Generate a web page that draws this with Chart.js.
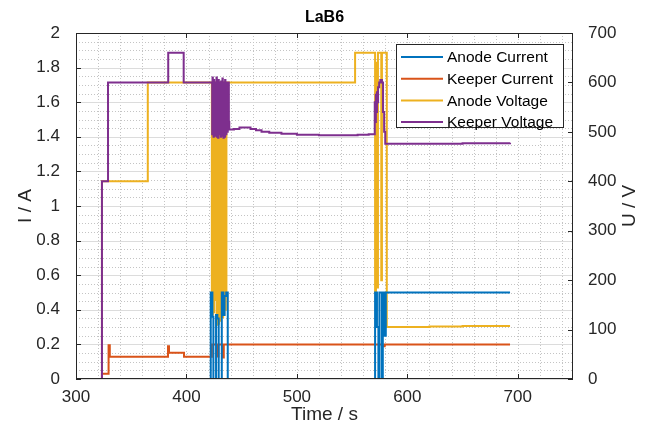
<!DOCTYPE html>
<html>
<head>
<meta charset="utf-8">
<title>LaB6</title>
<script src="https://cdn.jsdelivr.net/npm/chart.js@4.4.1/dist/chart.umd.min.js"></script>
<style>
  html, body { margin: 0; padding: 0; background: #fff; }
  #wrap { width: 647px; height: 432px; }
</style>
</head>
<body>
<div id="wrap"><canvas id="chart" width="647" height="432"></canvas></div>
<script>
// --- Data ---
const xTicks = [300, 400, 500, 600, 700];
const leftTicks = [0, 0.2, 0.4, 0.6, 0.8, 1, 1.2, 1.4, 1.6, 1.8, 2];
const leftTickLabels = ['0', '0.2', '0.4', '0.6', '0.8', '1', '1.2', '1.4', '1.6', '1.8', '2'];
const rightTicks = [0, 100, 200, 300, 400, 500, 600, 700];

const seriesNames = ['Anode Current', 'Keeper Current', 'Anode Voltage', 'Keeper Voltage'];

// Anode current, A (left axis)
const tAnodeCurrent = [322, 422.0, 423.5, 424.4, 426.8, 428.0, 429.2, 432.0, 433.5, 434.5, 436.0, 437.4,
  570.8, 572.5, 573.8, 574.7, 576.9, 577.8, 579.5, 580.5, 581.4, 620, 660, 693];
const anodeCurrent = [0, 0.5, 0.36, 0, 0.37, 0.35, 0, 0.5, 0.37, 0.48, 0.5, 0,
  0.5, 0.3, 0, 0.5, 0, 0.5, 0.25, 0.5, 0.5, 0.5, 0.5, 0.5];

// Keeper current, A (left axis)
const tKeeperCurrent = [322, 323.5, 329.5, 330.6, 383.3, 384.2, 397.8, 423.0, 427.7, 429.0, 432.3, 433.8,
  577.5, 579.5, 620, 693];
const keeperCurrent = [0, 0.03, 0.195, 0.128, 0.19, 0.152, 0.128, 0.2, 0.13, 0.2, 0.125, 0.2,
  0.19, 0.2, 0.2, 0.2];

// Anode voltage, V (right axis)
const tAnodeVoltage = [322, 323.5, 365,
  423.0, 423.3, 423.6, 423.9, 424.2, 424.5, 424.8, 425.1, 425.4, 425.7, 426.0,
  427.4, 427.7, 428.0, 428.3, 428.6, 428.9, 429.2, 429.5, 429.8, 430.1, 430.4, 430.7, 431.0,
  432.3, 432.6, 432.9, 433.2, 433.5, 433.8, 434.1, 434.4, 434.7, 435.0, 435.3, 435.6, 435.9, 436.2, 436.5,
  552.7, 570.8, 571.6, 572.4, 573.4, 574.7, 576.4, 577.0, 580.9, 581.4, 620, 650, 693];
const anodeVoltage = [0, 400, 600,
  140, 600, 130, 580, 150, 600, 135, 590, 160, 600, 600,
  115, 600, 110, 590, 120, 600, 112, 595, 125, 600, 118, 600, 600,
  140, 600, 125, 590, 150, 600, 130, 600, 160, 595, 140, 600, 170, 600, 600,
  660, 175, 640, 185, 660, 660, 200, 660, 660, 105, 106, 107, 107];

// Keeper voltage, V (right axis)
const tKeeperVoltage = [322, 323.5, 329, 383.5, 397.5,
  423.0, 423.3, 423.6, 423.9, 424.2, 424.5, 424.8, 425.1, 425.4, 425.7,
  426.0, 426.3, 426.6, 426.9, 427.2, 427.5, 427.8, 428.1, 428.4, 428.7,
  429.0, 429.3, 429.6, 429.9, 430.2, 430.5, 430.8, 431.1, 431.4, 431.7,
  432.0, 432.3, 432.6, 432.9, 433.2, 433.5, 433.8, 434.1, 434.4, 434.7,
  435.0, 435.3, 435.6, 435.9, 436.2, 436.5, 436.8, 437.1, 437.4, 437.7,
  438.0, 438.4, 438.8,
  443, 448, 453, 458, 463, 468, 475, 486, 500, 520, 540, 555, 565,
  570.5, 571.0, 571.5, 572.0, 572.5, 573.0, 573.5, 574.5, 575.5, 577.0, 578.0, 579.0, 580.0,
  600, 650, 693];
const keeperVoltage = [0, 400, 600, 660, 600,
  600, 495, 610, 500, 590, 490, 605, 505, 595, 492,
  600, 510, 585, 495, 610, 490, 600, 500, 595, 488,
  605, 500, 590, 495, 600, 505, 598, 490, 602, 498,
  600, 492, 608, 500, 595, 488, 600, 502, 592, 490,
  605, 498, 600, 495, 598, 505, 600, 500, 590, 510,
  600, 520, 505,
  506, 509, 509, 506, 503, 500, 498, 496, 494, 493, 493, 494, 495,
  560, 520, 575, 540, 580, 560, 590, 600, 605, 600, 540, 500, 476,
  476, 477, 478];

const colors = ['#0072BD', '#D95319', '#EDB120', '#7E2F8E'];

const FONT = "'Liberation Sans', Arial, sans-serif";
const AXIS_COLOR = '#262626';

function toPoints(ts, vs) {
  return ts.map(function (t, i) { return { x: t, y: vs[i] }; });
}

// --- MATLAB-like frame, grid, legend and labels ---
const matlabFrame = {
  id: 'matlabFrame',
  beforeDraw: function (chart) {
    const ctx = chart.ctx;
    ctx.save();
    ctx.fillStyle = '#fff';
    ctx.fillRect(0, 0, chart.width, chart.height);
    ctx.restore();
  },
  beforeDatasetsDraw: function (chart) {
    const ctx = chart.ctx;
    const a = chart.chartArea;
    const x = chart.scales.x;
    const y = chart.scales.y;
    ctx.save();
    ctx.lineWidth = 1;

    // minor grid, dotted
    ctx.strokeStyle = '#c4c4c4';
    ctx.setLineDash([1, 2]);
    ctx.beginPath();
    for (let i = 1; i < 23; i++) {
      const px = Math.round(x.getPixelForValue(300 + 20 * i)) + 0.5;
      ctx.moveTo(px, a.top);
      ctx.lineTo(px, a.bottom);
    }
    for (let i = 1; i < 40; i++) {
      const py = Math.round(y.getPixelForValue(0.05 * i)) + 0.5;
      ctx.moveTo(a.left, py);
      ctx.lineTo(a.right, py);
    }
    ctx.stroke();

    // major grid, solid
    ctx.setLineDash([]);
    ctx.strokeStyle = '#dcdcdc';
    ctx.beginPath();
    leftTicks.forEach(function (v) {
      const py = Math.round(y.getPixelForValue(v)) + 0.5;
      ctx.moveTo(a.left, py);
      ctx.lineTo(a.right, py);
    });
    ctx.stroke();
    ctx.restore();
  },
  afterDatasetsDraw: function (chart) {
    const ctx = chart.ctx;
    const a = chart.chartArea;
    const x = chart.scales.x;
    const y = chart.scales.y;
    const y2 = chart.scales.y2;
    const tick = 5;
    ctx.save();
    ctx.strokeStyle = AXIS_COLOR;
    ctx.lineWidth = 1;
    ctx.strokeRect(Math.round(a.left) + 0.5, Math.round(a.top) + 0.5,
      Math.round(a.right - a.left) - 1, Math.round(a.bottom - a.top) - 1);
    ctx.beginPath();
    xTicks.forEach(function (v) {
      const px = Math.round(x.getPixelForValue(v)) + 0.5;
      ctx.moveTo(px, a.bottom); ctx.lineTo(px, a.bottom - tick);
      ctx.moveTo(px, a.top); ctx.lineTo(px, a.top + tick);
    });
    leftTicks.forEach(function (v) {
      const py = Math.round(y.getPixelForValue(v)) + 0.5;
      ctx.moveTo(a.left, py); ctx.lineTo(a.left + tick, py);
    });
    rightTicks.forEach(function (v) {
      const py = Math.round(y2.getPixelForValue(v)) + 0.5;
      ctx.moveTo(a.right, py); ctx.lineTo(a.right - tick, py);
    });
    ctx.stroke();
    ctx.restore();
  },
  afterDraw: function (chart) {
    const ctx = chart.ctx;
    const a = chart.chartArea;
    const cx = (a.left + a.right) / 2;
    const cy = (a.top + a.bottom) / 2;
    ctx.save();

    // title
    ctx.fillStyle = '#000';
    ctx.textAlign = 'center';
    ctx.textBaseline = 'middle';
    ctx.font = 'bold 16px ' + FONT;
    ctx.fillText('LaB6', cx, 18);

    // axis labels
    ctx.fillStyle = AXIS_COLOR;
    ctx.font = '19px ' + FONT;
    ctx.fillText('Time / s', cx, 415);
    ctx.save();
    ctx.translate(26, cy);
    ctx.rotate(-Math.PI / 2);
    ctx.fillText('I / A', 0, 0);
    ctx.restore();
    ctx.save();
    ctx.translate(630, cy);
    ctx.rotate(-Math.PI / 2);
    ctx.fillText('U / V', 0, 0);
    ctx.restore();

    // legend
    const lg = { x: 396, y: 44, w: 167, h: 83 };
    ctx.fillStyle = '#fff';
    ctx.fillRect(lg.x, lg.y, lg.w, lg.h);
    ctx.strokeStyle = AXIS_COLOR;
    ctx.lineWidth = 1;
    ctx.strokeRect(lg.x + 0.5, lg.y + 0.5, lg.w, lg.h);
    ctx.font = '15.5px ' + FONT;
    ctx.textAlign = 'left';
    chart.data.datasets.forEach(function (ds, i) {
      const ry = lg.y + 13 + i * 21.7;
      ctx.strokeStyle = ds.borderColor;
      ctx.lineWidth = 2;
      ctx.beginPath();
      ctx.moveTo(lg.x + 5, ry);
      ctx.lineTo(lg.x + 47, ry);
      ctx.stroke();
      ctx.fillStyle = '#000';
      ctx.fillText(ds.label, lg.x + 51, ry + 1);
    });
    ctx.restore();
  }
};

function makeDataset(i, ts, vs, axis, order) {
  return {
    label: seriesNames[i],
    data: toPoints(ts, vs),
    yAxisID: axis,
    borderColor: colors[i],
    backgroundColor: colors[i],
    borderWidth: 2,
    pointRadius: 0,
    stepped: true,
    fill: false,
    order: order
  };
}

const tickFont = { family: FONT, size: 17 };

new Chart(document.getElementById('chart'), {
  type: 'line',
  data: {
    datasets: [
      makeDataset(0, tAnodeCurrent, anodeCurrent, 'y', 0),
      makeDataset(1, tKeeperCurrent, keeperCurrent, 'y', 2),
      makeDataset(2, tAnodeVoltage, anodeVoltage, 'y2', 3),
      makeDataset(3, tKeeperVoltage, keeperVoltage, 'y2', 1)
    ]
  },
  options: {
    responsive: false,
    animation: false,
    layout: { padding: { top: 33, left: 0, right: 0, bottom: 0 } },
    plugins: {
      legend: { display: false },
      tooltip: { enabled: false },
      title: { display: false }
    },
    scales: {
      x: {
        type: 'linear',
        min: 300,
        max: 750,
        grid: { display: false },
        border: { display: false },
        afterBuildTicks: function (scale) {
          scale.ticks = xTicks.map(function (v) { return { value: v }; });
        },
        afterFit: function (scale) { scale.height = 53; },
        ticks: { font: tickFont, color: AXIS_COLOR, padding: 0, maxRotation: 0 }
      },
      y: {
        position: 'left',
        min: 0,
        max: 2,
        grid: { display: false },
        border: { display: false },
        afterBuildTicks: function (scale) {
          scale.ticks = leftTicks.map(function (v) { return { value: v }; });
        },
        afterFit: function (scale) { scale.width = 76; },
        ticks: {
          font: tickFont,
          color: AXIS_COLOR,
          padding: 8,
          callback: function (value) {
            return leftTickLabels[leftTicks.indexOf(value)];
          }
        }
      },
      y2: {
        position: 'right',
        min: 0,
        max: 700,
        grid: { display: false },
        border: { display: false },
        afterBuildTicks: function (scale) {
          scale.ticks = rightTicks.map(function (v) { return { value: v }; });
        },
        afterFit: function (scale) { scale.width = 74; },
        ticks: { font: tickFont, color: AXIS_COLOR, padding: 7 }
      }
    }
  },
  plugins: [matlabFrame]
});
</script>
</body>
</html>
